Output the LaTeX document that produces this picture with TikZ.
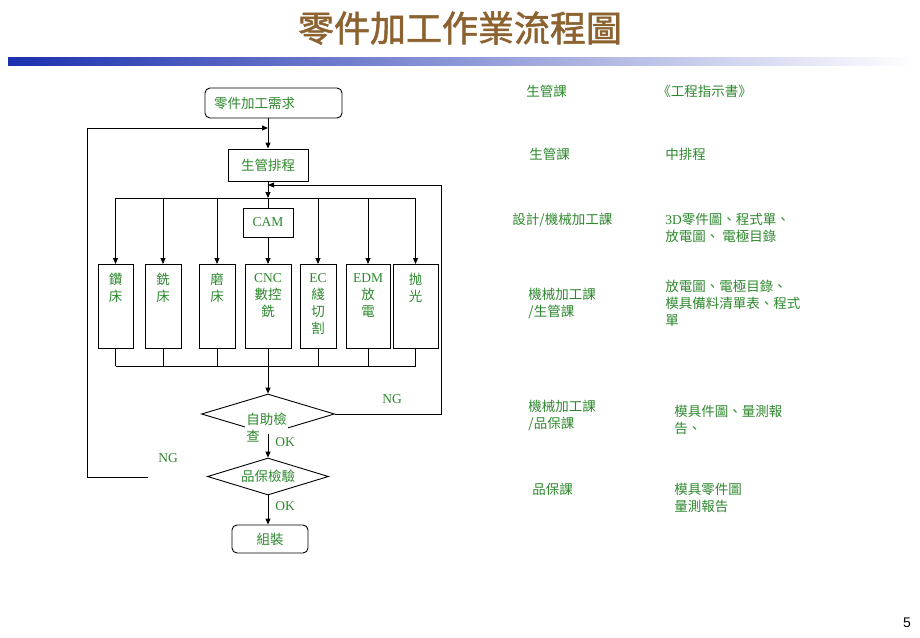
\documentclass[tikz,border=0pt]{standalone}
\usepackage{fontspec}
\setmainfont{Noto Sans CJK TC}
\newfontfamily\lat{Liberation Serif}
\newfontfamily\titlefont[FakeBold=1.5]{Noto Sans CJK TC}
\newfontfamily\pagefont{Liberation Sans}
\usetikzlibrary{positioning,shapes.geometric,arrows.meta}
\definecolor{labelgreen}{RGB}{45,135,45}
\definecolor{titlebrown}{RGB}{140,98,48}
\definecolor{barblue}{RGB}{28,48,175}

\begin{document}
\begin{tikzpicture}[
    x=1pt, y=-1pt, line width=0.9pt,
    every node/.style={font=\fontsize{13.5}{17}\selectfont},
    proc/.style={rectangle,draw,text=labelgreen,inner sep=0pt},
    tool/.style={rectangle,draw,minimum height=84pt,inner sep=0pt},
    decision/.style={diamond,draw,inner sep=0pt},
    notes/.style={text=labelgreen,align=left,inner sep=0pt,anchor=north west},
    tag/.style={text=labelgreen,inner sep=0pt},
    latin/.style={font=\lat\fontsize{13.5}{17}\selectfont},
    arr/.style={-{Triangle[length=6pt,width=5pt]}},
  ]
\useasboundingbox (0,0) rectangle (920,637);

% title and bar
\node (title) [font=\titlefont\fontsize{36}{40}\selectfont,text=titlebrown] at (460,28) {零件加工作業流程圖};
\shade[left color=barblue,right color=white] (8,57) rectangle (915,65);

% flow chart
\node (demand) [proc,rounded corners=5pt,minimum width=137pt,minimum height=30pt,text width=119pt,inner xsep=9pt,align=left] at (273.5,103) {零件加工需求};
\node (sched) [proc,minimum width=80pt,minimum height=32pt] at (268,165) {生管排程};
\node (cam) [proc,latin,minimum width=50pt,minimum height=29pt] at (268,222.5) {CAM};

\coordinate (back left) at (268,128);
\coordinate (back right) at (268,185);
\coordinate (split) at (268,198);
\coordinate (merge) at (268,366);

\foreach \name/\x/\w/\txt in {drill/115.5/35/{鑽\\床}, mill/163/36/{銑\\床}, grind/217/36/{磨\\床},
    cnc/268/46/{{\lat CNC}\\數控\\銑}, wire/318/36/{{\lat EC}\\綫\\切\\割},
    edm/368/44/{{\lat EDM}\\放\\電}, polish/415.5/45/{抛\\光}}
{
  \node (\name) [tool,minimum width=\w pt,anchor=north] at (\x,264) {};
  \node (\name text) [tag,align=center,anchor=north] at ([yshift=-9pt]\name.north) {\txt};
}

\draw[arr] (demand.south -| sched.north) -- (sched.north);
\draw[arr] (sched.south) -- (split);
\draw (split) -- (cam.north);
\draw (drill.north |- split) -- (polish.north |- split);
\foreach \name in {drill,mill,grind,wire,edm,polish}
  \draw[arr] (\name.north |- split) -- (\name.north);
\draw[arr] (cam.south) -- (cnc.north);

\foreach \name in {drill,mill,grind,wire,edm,polish}
  \draw (\name.south) -- (\name.south |- merge);
\draw (drill.south |- merge) -- (polish.south |- merge);

% checks
\node (check) [decision,minimum width=133pt,minimum height=40pt] at (268,414) {};
\draw[arr] (cnc.south) -- (check.north);
\node (check text) [tag,fill=white,inner sep=1pt,align=left,anchor=north west] at (245,412) {自助檢\\查};
\node (qa) [decision,minimum width=121pt,minimum height=37pt] at (268,476.5) {};
\node (qa text) [tag] at (qa) {品保檢驗};
\draw[arr] (check.south) -- (qa.north);
\node (ok1) [tag,latin] at (285,442) {OK};

\node (ng right) [tag,latin] at (392,399) {NG};
\draw[arr] (check.east) -- ++(106,0) |- (back right);
\node (ng left) [tag,latin] at (168,458) {NG};
\coordinate (qa gap) at (148,477);
\draw[arr] (qa gap) -- ++(-61,0) |- (back left);

\node (assemble) [proc,rounded corners=5pt,minimum width=76pt,minimum height=28pt] at (270,539) {組裝};
\draw[arr] (qa.south) -- (qa.south |- assemble.north);
\node (ok2) [tag,latin] at (285,506) {OK};

% departments and documents
\node (dept1) [notes] at (526,85) {生管課};
\node (doc1) [notes] at (657,85) {《工程指示書》};
\node (dept2) [notes] at (529,148) {生管課};
\node (doc2) [notes] at (665,148) {中排程};
\node (dept3) [notes] at (512,213) {設計/機械加工課};
\node (doc3) [notes] at (665,213) {{\lat 3D}零件圖、程式單、\\放電圖、 電極目錄};
\node (dept4) [notes] at (528,288) {機械加工課\\/生管課};
\node (doc4) [notes] at (665,280) {放電圖、電極目錄、\\模具備料清單表、程式\\單};
\node (dept5) [notes] at (528,400) {機械加工課\\/品保課};
\node (doc5) [notes] at (674,405) {模具件圖、量測報\\告、};
\node (dept6) [notes] at (532,483) {品保課};
\node (doc6) [notes] at (674,483) {模具零件圖\\量測報告};

\node (page) [font=\pagefont\fontsize{14}{16}\selectfont] at (907,623) {5};
\end{tikzpicture}
\end{document}
